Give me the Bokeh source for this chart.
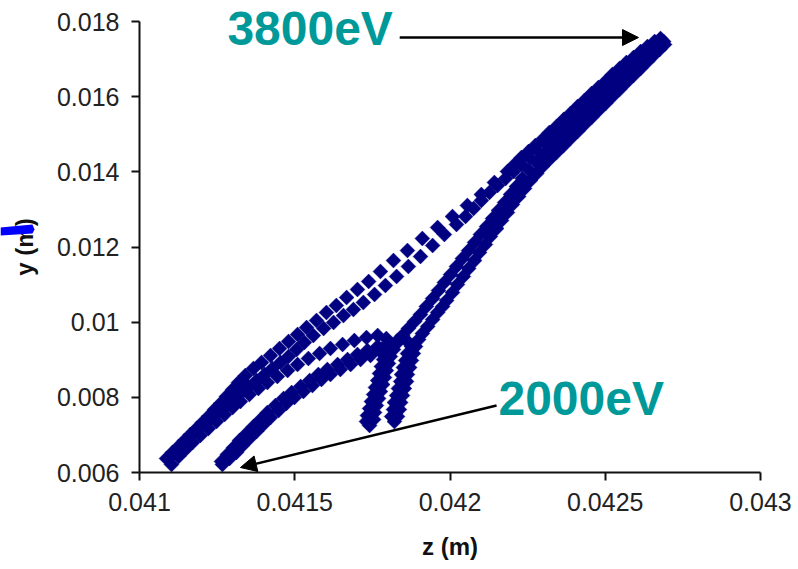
import math
from bokeh.plotting import figure
from bokeh.models import (Range1d, FixedTicker, CustomJSTickFormatter, Label,
                          Arrow, NormalHead, PolyAnnotation)
from bokeh.embed import file_html
from bokeh.resources import INLINE

# ---------------- data (z, y in metres) ----------------
x_ticks = [0.041, 0.0415, 0.042, 0.0425, 0.043]
y_ticks = [0.006, 0.008, 0.010, 0.012, 0.014, 0.016, 0.018]

# trajectory 1 (upper fast row)
t1_z = [0.041087, 0.041106, 0.041126, 0.041145, 0.041164, 0.041184, 0.041203, 0.041222,
        0.041242, 0.041261, 0.041280, 0.041300, 0.041319, 0.041341, 0.041367, 0.041393,
        0.041422, 0.041451, 0.041480, 0.041509, 0.041538, 0.041570, 0.041602, 0.041634,
        0.041667, 0.041702, 0.041738, 0.041776, 0.041818, 0.041863, 0.041911, 0.041960,
        0.042008, 0.042056, 0.042101, 0.042143, 0.042185, 0.042208, 0.042230, 0.042253,
        0.042275, 0.042298, 0.042320, 0.042343, 0.042366, 0.042388, 0.042411, 0.042433,
        0.042456, 0.042478, 0.042501, 0.042523, 0.042546, 0.042568, 0.042591, 0.042614,
        0.042636, 0.042659, 0.042678]
t1_y = [0.006373, 0.006532, 0.006692, 0.006852, 0.007011, 0.007171, 0.007331, 0.007490,
        0.007676, 0.007836, 0.008022, 0.008209, 0.008395, 0.008581, 0.008767, 0.008927,
        0.009113, 0.009300, 0.009486, 0.009672, 0.009858, 0.010045, 0.010258, 0.010444,
        0.010657, 0.010870, 0.011083, 0.011349, 0.011641, 0.011907, 0.012227, 0.012520,
        0.012812, 0.013105, 0.013398, 0.013717, 0.014010, 0.014196, 0.014382, 0.014542,
        0.014701, 0.014861, 0.015047, 0.015207, 0.015393, 0.015553, 0.015739, 0.015899,
        0.016085, 0.016245, 0.016405, 0.016591, 0.016750, 0.016910, 0.017043, 0.017203,
        0.017336, 0.017469, 0.017549]

# trajectory 2 (lower fast row)
t2_z = [0.041097, 0.041116, 0.041135, 0.041155, 0.041174, 0.041193, 0.041216, 0.041238,
        0.041261, 0.041283, 0.041306, 0.041329, 0.041351, 0.041377, 0.041403, 0.041428,
        0.041454, 0.041480, 0.041506, 0.041531, 0.041560, 0.041593, 0.041625, 0.041657,
        0.041689, 0.041721, 0.041757, 0.041792, 0.041828, 0.041866, 0.041905, 0.041944,
        0.041982, 0.042021, 0.042050, 0.042076, 0.042101, 0.042127, 0.042153, 0.042179,
        0.042205, 0.042230, 0.042256, 0.042282, 0.042308, 0.042333, 0.042359, 0.042385,
        0.042411, 0.042436, 0.042462, 0.042488, 0.042514, 0.042539, 0.042565, 0.042591,
        0.042617, 0.042643, 0.042665, 0.042688]
t2_y = [0.006399, 0.006559, 0.006718, 0.006878, 0.007038, 0.007171, 0.007331, 0.007490,
        0.007650, 0.007809, 0.007969, 0.008129, 0.008288, 0.008448, 0.008608, 0.008767,
        0.008927, 0.009087, 0.009273, 0.009459, 0.009646, 0.009832, 0.009992, 0.010178,
        0.010337, 0.010524, 0.010737, 0.010976, 0.011216, 0.011482, 0.011748, 0.012041,
        0.012333, 0.012599, 0.012812, 0.013025, 0.013238, 0.013451, 0.013637, 0.013823,
        0.014010, 0.014196, 0.014382, 0.014568, 0.014755, 0.014941, 0.015127, 0.015314,
        0.015500, 0.015686, 0.015872, 0.016059, 0.016245, 0.016431, 0.016617, 0.016804,
        0.016990, 0.017176, 0.017336, 0.017469]

# trajectory 3 (outer arch, left hook)
t3_z = [0.041103, 0.041126, 0.041148, 0.041171, 0.041196, 0.041222, 0.041248, 0.041274,
        0.041300, 0.041325, 0.041354, 0.041383, 0.041412, 0.041444, 0.041477, 0.041509,
        0.041544, 0.041580, 0.041615, 0.041654, 0.041692, 0.041731, 0.041767, 0.041795,
        0.041799, 0.041792, 0.041786, 0.041779, 0.041773, 0.041767, 0.041760, 0.041754,
        0.041747, 0.041741, 0.041734, 0.041731, 0.041741, 0.041754, 0.041757, 0.041763,
        0.041770, 0.041776, 0.041783, 0.041789, 0.041795, 0.041802, 0.041808, 0.041818,
        0.041831, 0.041847, 0.041866, 0.041886, 0.041905, 0.041924, 0.041944, 0.041963,
        0.041982, 0.042002, 0.042021, 0.042040, 0.042060, 0.042079, 0.042098, 0.042118,
        0.042137, 0.042156, 0.042176, 0.042195, 0.042214, 0.042233, 0.042256, 0.042279,
        0.042301, 0.042324, 0.042346, 0.042369, 0.042391, 0.042414, 0.042436, 0.042459,
        0.042481, 0.042504, 0.042527, 0.042549, 0.042572, 0.042594, 0.042617, 0.042639,
        0.042662, 0.042684]
t3_y = [0.006213, 0.006426, 0.006612, 0.006798, 0.006985, 0.007171, 0.007357, 0.007543,
        0.007730, 0.007889, 0.008076, 0.008235, 0.008395, 0.008555, 0.008714, 0.008874,
        0.009034, 0.009167, 0.009300, 0.009406, 0.009513, 0.009592, 0.009646, 0.009566,
        0.009380, 0.009193, 0.009007, 0.008821, 0.008634, 0.008448, 0.008262, 0.008076,
        0.007889, 0.007703, 0.007517, 0.007357, 0.007251, 0.007410, 0.007597, 0.007783,
        0.007969, 0.008155, 0.008342, 0.008528, 0.008714, 0.008900, 0.009087, 0.009273,
        0.009459, 0.009646, 0.009832, 0.010018, 0.010204, 0.010417, 0.010630, 0.010843,
        0.011056, 0.011269, 0.011482, 0.011695, 0.011907, 0.012120, 0.012333, 0.012546,
        0.012759, 0.012972, 0.013185, 0.013398, 0.013610, 0.013823, 0.014036, 0.014249,
        0.014435, 0.014622, 0.014808, 0.014994, 0.015180, 0.015367, 0.015553, 0.015739,
        0.015926, 0.016112, 0.016298, 0.016484, 0.016671, 0.016857, 0.017017, 0.017176,
        0.017336, 0.017469]

# trajectory 4 (2000 eV start, right hook)
t4_z = [0.041264, 0.041283, 0.041303, 0.041322, 0.041345, 0.041367, 0.041390, 0.041412,
        0.041438, 0.041464, 0.041490, 0.041519, 0.041548, 0.041576, 0.041605, 0.041638,
        0.041670, 0.041702, 0.041734, 0.041767, 0.041799, 0.041831, 0.041860, 0.041876,
        0.041863, 0.041857, 0.041850, 0.041844, 0.041841, 0.041834, 0.041828, 0.041821,
        0.041818, 0.041812, 0.041821, 0.041831, 0.041837, 0.041841, 0.041847, 0.041853,
        0.041860, 0.041863, 0.041870, 0.041876, 0.041882, 0.041889, 0.041899, 0.041911,
        0.041928, 0.041944, 0.041960, 0.041976, 0.041989, 0.042008, 0.042024, 0.042043,
        0.042060, 0.042079, 0.042095, 0.042114, 0.042130, 0.042150, 0.042166, 0.042185,
        0.042201, 0.042221, 0.042240, 0.042259, 0.042279, 0.042298, 0.042320, 0.042343,
        0.042366, 0.042388, 0.042411, 0.042433, 0.042456, 0.042478, 0.042501, 0.042523,
        0.042546, 0.042568, 0.042591, 0.042614, 0.042636, 0.042655, 0.042675, 0.042691]
t4_y = [0.006293, 0.006479, 0.006665, 0.006852, 0.007038, 0.007224, 0.007410, 0.007597,
        0.007783, 0.007969, 0.008129, 0.008288, 0.008448, 0.008608, 0.008741, 0.008874,
        0.009007, 0.009140, 0.009246, 0.009353, 0.009433, 0.009513, 0.009513, 0.009353,
        0.009167, 0.008980, 0.008794, 0.008608, 0.008422, 0.008235, 0.008049, 0.007863,
        0.007676, 0.007490, 0.007357, 0.007490, 0.007676, 0.007863, 0.008049, 0.008235,
        0.008422, 0.008608, 0.008794, 0.008980, 0.009167, 0.009353, 0.009539, 0.009699,
        0.009885, 0.010071, 0.010258, 0.010417, 0.010577, 0.010790, 0.011003, 0.011216,
        0.011428, 0.011641, 0.011854, 0.012067, 0.012280, 0.012493, 0.012706, 0.012919,
        0.013131, 0.013344, 0.013557, 0.013770, 0.013956, 0.014143, 0.014329, 0.014515,
        0.014701, 0.014888, 0.015074, 0.015260, 0.015447, 0.015633, 0.015819, 0.016005,
        0.016192, 0.016378, 0.016564, 0.016750, 0.016937, 0.017096, 0.017256, 0.017389]

# trajectory 5 (companion of the 2000 eV start)
t5_z = [0.041267, 0.041290, 0.041312, 0.041332, 0.041354, 0.041377, 0.041399, 0.041422,
        0.041448, 0.041473, 0.041499, 0.041528, 0.041557, 0.041586, 0.041615, 0.041647,
        0.041680, 0.041712, 0.041744, 0.041776, 0.041805]
t5_y = [0.006213, 0.006373, 0.006532, 0.006718, 0.006905, 0.007091, 0.007277, 0.007464,
        0.007650, 0.007836, 0.007996, 0.008155, 0.008315, 0.008475, 0.008608, 0.008741,
        0.008874, 0.009007, 0.009113, 0.009220, 0.009273]

energy_labels = ["3800eV", "2000eV"]

NAVY = "#000080"
TEAL = "#009999"
FONT = "Liberation Sans"

# the frame covers the whole canvas; the axes sit at fixed data locations
p = figure(width=798, height=569, output_backend="svg", toolbar_location=None,
           title=None, min_border=0,
           x_range=Range1d(0.0405523, 0.0431224), y_range=Range1d(0.0034189, 0.0185600))
p.outline_line_color = None
p.grid.visible = False
p.background_fill_color = "white"
p.border_fill_color = "white"

for zs, ys in [(t1_z, t1_y), (t2_z, t2_y), (t3_z, t3_y), (t4_z, t4_y), (t5_z, t5_y)]:
    p.scatter(zs, ys, marker="square", angle=math.pi / 4, size=10.5,
              fill_color=NAVY, line_color=NAVY, line_width=0.5)

p.xaxis.ticker = FixedTicker(ticks=x_ticks)
p.yaxis.ticker = FixedTicker(ticks=y_ticks)
p.xaxis.formatter = CustomJSTickFormatter(code="return tick.toFixed(4).replace(/0+$/, '');")
p.yaxis.formatter = CustomJSTickFormatter(code="return tick.toFixed(3).replace(/0+$/, '');")
p.xaxis.fixed_location = y_ticks[0]
p.yaxis.fixed_location = x_ticks[0]
p.xaxis.bounds = (x_ticks[0], x_ticks[-1])
p.yaxis.bounds = (y_ticks[0], y_ticks[-1])
p.xaxis.axis_label = "z (m)"
p.yaxis.axis_label = "y (m)"
for ax in (p.xaxis, p.yaxis):
    ax.minor_tick_line_color = None
    ax.major_tick_in = 0
    ax.major_tick_out = 8
    ax.axis_line_width = 2
    ax.axis_line_color = "#111111"
    ax.major_tick_line_width = 2
    ax.major_tick_line_color = "#111111"
    ax.major_label_text_font = FONT
    ax.major_label_text_font_size = "25px"
    ax.major_label_text_color = "#222222"
    ax.major_label_standoff = 12
    ax.axis_label_text_font = FONT
    ax.axis_label_text_font_size = "24px"
    ax.axis_label_text_font_style = "bold"
    ax.axis_label_text_color = "#111111"
p.xaxis.axis_label_standoff = 19
p.yaxis.axis_label_standoff = 16

# energy annotations
p.add_layout(Label(x=0.041283, y=0.017802, text=energy_labels[0], text_font=FONT,
                   text_font_size="48px", text_font_style="bold", text_color=TEAL,
                   text_baseline="middle", text_align="left"))
p.add_layout(Label(x=0.042156, y=0.007969, text=energy_labels[1], text_font=FONT,
                   text_font_size="48px", text_font_style="bold", text_color=TEAL,
                   text_baseline="middle", text_align="left"))
p.add_layout(Arrow(end=NormalHead(size=16, fill_color="black", line_color="black"),
                   x_start=0.041838, y_start=0.017575, x_end=0.042607, y_end=0.017575,
                   line_width=2.5, line_color="black"))
p.add_layout(Arrow(end=NormalHead(size=16, fill_color="black", line_color="black"),
                   x_start=0.042150, y_start=0.007783, x_end=0.041325, y_end=0.006133,
                   line_width=2.5, line_color="black"))

# blue stroke at the left edge
p.add_layout(PolyAnnotation(xs=[0.0405523, 0.0406554, 0.0406618, 0.0406554, 0.0405523],
                            ys=[0.0125194, 0.0125993, 0.0124662, 0.0123598, 0.0123066],
                            fill_color="#0000FF", fill_alpha=1.0, line_color=None))

open("out.html", "w").write(file_html(p, INLINE))
